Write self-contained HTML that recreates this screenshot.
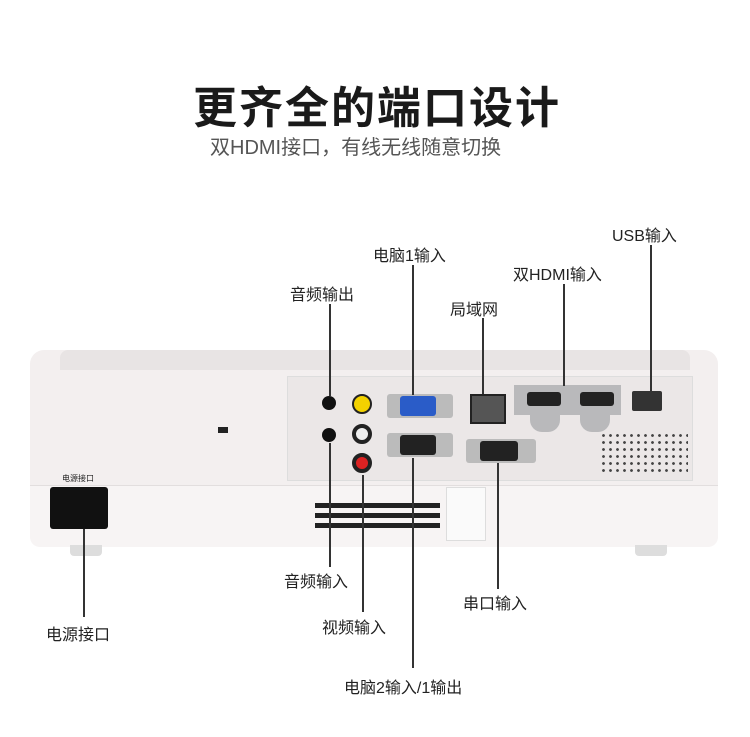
<!DOCTYPE html>
<html><head><meta charset="utf-8"><style>
body{margin:0;width:750px;height:737px;background:#fff;position:relative;overflow:hidden;font-family:"Liberation Sans","Noto Sans CJK SC",sans-serif}
.a{position:absolute}
.t{position:absolute;font-size:16px;color:#222;white-space:nowrap}
.l{position:absolute;background:#333;width:1.5px}
</style></head><body>
<div class="t" style="left:193px;top:72px;font-size:44px;font-weight:bold;color:#1a1a1a;letter-spacing:2px">更齐全的端口设计</div>
<div class="t" style="left:210px;top:131px;font-size:20px;color:#555">双HDMI接口，有线无线随意切换</div>

<!-- body -->
<div class="a" style="left:30px;top:350px;width:688px;height:196px;background:#f3efef;border-radius:14px 14px 10px 10px"></div>
<div class="a" style="left:60px;top:350px;width:630px;height:20px;background:#e8e4e4;border-radius:8px 8px 0 0"></div>
<div class="a" style="left:30px;top:485px;width:688px;height:61px;background:#f7f4f4;border-top:1px solid #e2dede;border-radius:0 0 10px 10px"></div>
<div class="a" style="left:287px;top:376px;width:404px;height:103px;background:#ebe7e7;border:1px solid #ddd"></div>
<div class="a" style="left:446px;top:487px;width:38px;height:52px;background:#fafafa;border:1px solid #ddd"></div>
<!-- vents -->
<div class="a" style="left:315px;top:503px;width:125px;height:30px;background:repeating-linear-gradient(#222 0 5px,transparent 5px 10px)"></div>
<div class="a" style="left:602px;top:482px;width:0;height:0"></div>
<div class="a" style="left:600px;top:432px;width:88px;height:44px;background:radial-gradient(circle,#444 1.2px,transparent 1.6px) 0 0/7px 7px"></div>
<!-- feet -->
<div class="a" style="left:70px;top:545px;width:32px;height:11px;background:#ddd;border-radius:0 0 4px 4px"></div>
<div class="a" style="left:635px;top:545px;width:32px;height:11px;background:#ddd;border-radius:0 0 4px 4px"></div>
<!-- power -->
<div class="a" style="left:50px;top:487px;width:58px;height:42px;background:#111;border-radius:3px"></div>
<div class="t" style="left:62px;top:473px;font-size:8px">电源接口</div>
<div class="a" style="left:218px;top:427px;width:10px;height:6px;background:#222"></div>
<!-- ports -->
<div class="a" style="left:322px;top:396px;width:14px;height:14px;background:#111;border-radius:50%"></div>
<div class="a" style="left:322px;top:428px;width:14px;height:14px;background:#111;border-radius:50%"></div>
<div class="a" style="left:352px;top:394px;width:20px;height:20px;background:#f3d200;border:2px solid #222;border-radius:50%;box-sizing:border-box"></div>
<div class="a" style="left:352px;top:424px;width:20px;height:20px;background:#eee;border:4px solid #222;border-radius:50%;box-sizing:border-box"></div>
<div class="a" style="left:352px;top:453px;width:20px;height:20px;background:#d22;border:4px solid #222;border-radius:50%;box-sizing:border-box"></div>
<div class="a" style="left:387px;top:394px;width:66px;height:24px;background:#bbb;border-radius:3px"></div>
<div class="a" style="left:400px;top:396px;width:36px;height:20px;background:#2a5cc8;border-radius:3px"></div>
<div class="a" style="left:387px;top:433px;width:66px;height:24px;background:#bbb;border-radius:3px"></div>
<div class="a" style="left:400px;top:435px;width:36px;height:20px;background:#222;border-radius:3px"></div>
<div class="a" style="left:470px;top:394px;width:32px;height:26px;background:#555;border:2px solid #222"></div>
<div class="a" style="left:466px;top:439px;width:70px;height:24px;background:#bbb;border-radius:3px"></div>
<div class="a" style="left:480px;top:441px;width:38px;height:20px;background:#222;border-radius:3px"></div>
<div class="a" style="left:514px;top:385px;width:107px;height:30px;background:#b9b9bb"></div>
<div class="a" style="left:530px;top:415px;width:30px;height:17px;background:#b9b9bb;border-radius:0 0 12px 12px"></div>
<div class="a" style="left:580px;top:415px;width:30px;height:17px;background:#b9b9bb;border-radius:0 0 12px 12px"></div>
<div class="a" style="left:527px;top:392px;width:34px;height:14px;background:#222;border-radius:3px"></div>
<div class="a" style="left:580px;top:392px;width:34px;height:14px;background:#222;border-radius:3px"></div>
<div class="a" style="left:632px;top:391px;width:30px;height:20px;background:#333;border-radius:2px"></div>

<!-- lines -->
<div class="l" style="left:329px;top:304px;height:92px"></div>
<div class="l" style="left:412px;top:265px;height:130px"></div>
<div class="l" style="left:482px;top:318px;height:76px"></div>
<div class="l" style="left:563px;top:284px;height:102px"></div>
<div class="l" style="left:650px;top:245px;height:146px"></div>
<div class="l" style="left:329px;top:443px;height:124px"></div>
<div class="l" style="left:362px;top:475px;height:137px"></div>
<div class="l" style="left:412px;top:458px;height:210px"></div>
<div class="l" style="left:497px;top:463px;height:126px"></div>
<div class="l" style="left:83px;top:529px;height:88px"></div>

<div class="t" style="left:612px;top:222px">USB输入</div>
<div class="t" style="left:373px;top:242px">电脑1输入</div>
<div class="t" style="left:513px;top:261px">双HDMI输入</div>
<div class="t" style="left:290px;top:281px">音频输出</div>
<div class="t" style="left:450px;top:296px">局域网</div>
<div class="t" style="left:284px;top:568px">音频输入</div>
<div class="t" style="left:463px;top:590px">串口输入</div>
<div class="t" style="left:322px;top:614px">视频输入</div>
<div class="t" style="left:46px;top:621px">电源接口</div>
<div class="t" style="left:344px;top:674px">电脑2输入/1输出</div>
</body></html>
